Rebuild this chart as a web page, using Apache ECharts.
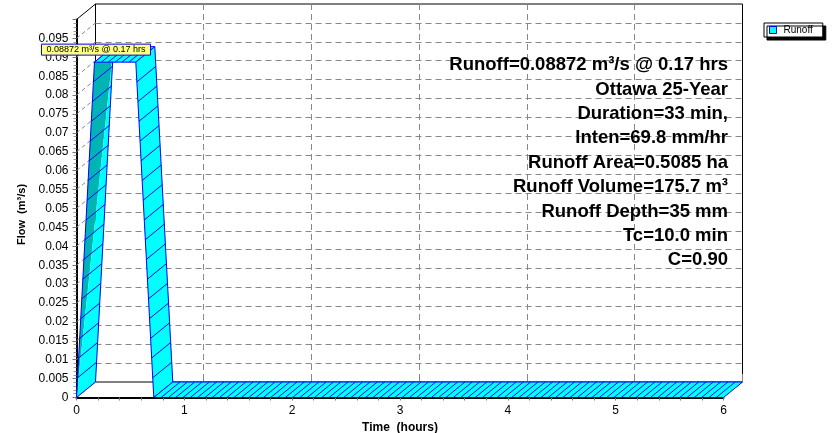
<!DOCTYPE html>
<html>
<head>
<meta charset="utf-8">
<script src="https://cdn.jsdelivr.net/npm/echarts@6/dist/echarts.min.js"></script>
<style>
html,body{margin:0;padding:0;background:#fff;}
#chart{width:837px;height:433px;}
</style>
</head>
<body>
<div id="chart"></div>
<script>
// ---- data ----
const seriesName = 'Runoff';
const timeHours = [0, 0.1667, 0.55, 0.7167, 6];
const flowCms = [0, 0.08872, 0.08872, 0, 0];
const flowTicks = [0, 0.005, 0.01, 0.015, 0.02, 0.025, 0.03, 0.035, 0.04, 0.045, 0.05,
  0.055, 0.06, 0.065, 0.07, 0.075, 0.08, 0.085, 0.09, 0.095, 0.1];
const timeTicks = [0, 1, 2, 3, 4, 5, 6];
const annotationLines = [
  'Runoff=0.08872 m³/s @ 0.17 hrs',
  'Ottawa 25-Year',
  'Duration=33 min,',
  'Inten=69.8 mm/hr',
  'Runoff Area=0.5085 ha',
  'Runoff Volume=175.7 m³',
  'Runoff Depth=35 mm',
  'Tc=10.0 min',
  'C=0.90'
];
const xAxisName = 'Time  (hours)';
const yAxisName = 'Flow  (m³/s)';

// ---- style constants ----
const DX = 19, DY = -15.5;
const FONT = 'Liberation Sans, Arial, Helvetica, sans-serif';
const CYAN = '#00ffff', TEAL = '#00b4b4', BLUE = '#0000ff';

const yMax = flowTicks[flowTicks.length - 1];
const xMax = timeTicks[timeTicks.length - 1];
let peakIdx = 0;
flowCms.forEach((q, i) => { if (q > flowCms[peakIdx]) peakIdx = i; });

function fmt(v) { return String(+(+v).toFixed(4)); }

function renderWall(params, api) {
  const v = api.value(1);
  const p = api.coord([0, v]);
  const top = v >= yMax;
  return {
    type: 'line',
    shape: { x1: p[0], y1: p[1], x2: p[0] + DX, y2: p[1] + DY },
    style: { stroke: top ? '#000' : '#888', lineWidth: 1, lineDash: top ? null : [4, 3] }
  };
}

function poly(pts, fill, stroke) {
  return { type: 'polygon', shape: { points: pts }, style: { fill: fill || null, stroke: stroke || null, lineWidth: 1 } };
}

function renderRibbon(params, api) {
  const i = params.dataIndex;
  const children = [];
  if (i < timeHours.length - 1) {
    const a = api.coord([timeHours[i], flowCms[i]]);
    const b = api.coord([timeHours[i + 1], flowCms[i + 1]]);
    const ab = [a[0] + DX, a[1] + DY];
    const bb = [b[0] + DX, b[1] + DY];
    if (flowCms[i + 1] > flowCms[i]) {
      children.push(poly([a, b, bb], TEAL));
      children.push(poly([a, bb, ab], CYAN));
    } else {
      children.push(poly([a, b, bb, ab], CYAN));
    }
    // hatch lines parallel to depth
    const ddx = b[0] - a[0], ddy = b[1] - a[1];
    const steep = Math.abs(ddy) > Math.abs(ddx);
    const n = Math.max(1, Math.round(steep ? Math.abs(ddy) / 19.3 : Math.abs(ddx) / 7.3));
    for (let k = 1; k < n; k++) {
      const f = k / n;
      const x = a[0] + ddx * f, y = a[1] + ddy * f;
      children.push({ type: 'line', shape: { x1: x, y1: y, x2: x + DX, y2: y + DY },
        style: { stroke: BLUE, lineWidth: 1 } });
    }
    children.push(poly([a, b, bb, ab], null, BLUE));
  }
  if (i === peakIdx) {
    const p = api.coord([timeHours[i], flowCms[i]]);
    const txt = String(flowCms[i]) + ' m³/s @ ' + timeHours[i].toFixed(2) + ' hrs';
    children.push({
      type: 'rect', z2: 50,
      shape: { x: p[0] - 53, y: p[1] - 18, width: 109, height: 11 },
      style: { fill: '#ffff80', stroke: BLUE, lineWidth: 1 }
    });
    children.push({
      type: 'text', z2: 51,
      x: p[0] + 1.5, y: p[1] - 12.5,
      style: { text: txt, fill: '#000', font: '9px ' + FONT, align: 'center', verticalAlign: 'middle' }
    });
  }
  return { type: 'group', children };
}

const chart = echarts.init(document.getElementById('chart'), null, { renderer: 'canvas' });
const option = {
  animation: false,
  backgroundColor: '#fff',
  textStyle: { fontFamily: FONT },
  grid: [
    { left: 76.5, top: 19.5, width: 647, height: 378, outerBoundsMode: 'none', containLabel: false },
    { left: 95.5, top: 4, width: 647, height: 378, outerBoundsMode: 'none', containLabel: false,
      show: true, borderColor: '#000', borderWidth: 1, backgroundColor: 'transparent' }
  ],
  xAxis: [
    {
      gridIndex: 0, type: 'value', min: timeTicks[0], max: xMax, interval: 1,
      name: xAxisName, nameLocation: 'middle', nameGap: 21,
      nameTextStyle: { fontWeight: 'bold', fontSize: 12, color: '#000', fontFamily: FONT },
      axisLine: { show: true, onZero: false, lineStyle: { color: '#000', width: 2 } },
      axisTick: { show: true, length: 3, lineStyle: { color: '#777' } },
      minorTick: { show: true, splitNumber: 5, length: 3, lineStyle: { color: '#777' } },
      axisLabel: { fontSize: 12, color: '#000', margin: 7, formatter: fmt },
      splitLine: { show: false }
    },
    {
      gridIndex: 1, type: 'value', min: timeTicks[0], max: xMax, interval: 1,
      axisLine: { show: false },
      axisTick: { show: true, inside: true, length: 8, lineStyle: { color: '#888' } },
      axisLabel: { show: false },
      splitLine: { show: true, showMinLine: false, showMaxLine: false, lineStyle: { color: '#888', type: [6, 4], width: 1 } }
    }
  ],
  yAxis: [
    {
      gridIndex: 0, type: 'value', min: flowTicks[0], max: yMax, interval: 0.005,
      name: yAxisName, nameLocation: 'middle', nameGap: 47,
      nameTextStyle: { fontWeight: 'bold', fontSize: 11, color: '#000', fontFamily: FONT, padding: [0, 12, 0, 0] },
      axisLine: { show: true, onZero: false, lineStyle: { color: '#000', width: 2 } },
      axisTick: { show: true, length: 4, lineStyle: { color: '#777' } },
      minorTick: { show: true, splitNumber: 5, length: 3, lineStyle: { color: '#999' } },
      axisLabel: { fontSize: 12, color: '#000', margin: 8, showMaxLabel: false, formatter: fmt },
      splitLine: { show: false }
    },
    {
      gridIndex: 1, type: 'value', min: flowTicks[0], max: yMax, interval: 0.005,
      axisLine: { show: false }, axisTick: { show: false }, axisLabel: { show: false },
      splitLine: { show: true, showMinLine: false, showMaxLine: false, lineStyle: { color: '#888', type: [6, 4], width: 1 } }
    }
  ],
  legend: {
    data: [{ name: seriesName, icon: 'rect' }],
    left: 764, top: 23,
    itemWidth: 7, itemHeight: 7,
    padding: [2, 10, 2, 5],
    backgroundColor: '#fff', borderColor: '#000', borderWidth: 1, borderRadius: 0,
    shadowColor: '#000', shadowOffsetX: 3, shadowOffsetY: 3, shadowBlur: 0,
    itemStyle: { color: CYAN, borderColor: BLUE, borderWidth: 1 },
    textStyle: { fontSize: 10, color: '#000', fontFamily: FONT, padding: [0, 0, 0, 2] }
  },
  graphic: [
    {
      type: 'text', x: 728, y: 53, z: 100,
      style: {
        text: annotationLines.join('\n'), fill: '#000', align: 'right', verticalAlign: 'top',
        font: 'bold 18.5px ' + FONT, lineHeight: 24.4
      }
    }
  ],
  series: [
    {
      name: 'wall', type: 'custom', xAxisIndex: 0, yAxisIndex: 0, clip: false, z: 1,
      silent: true,
      data: flowTicks.map(v => [0, v]),
      encode: { x: 0, y: 1 },
      renderItem: renderWall
    },
    {
      name: seriesName, type: 'custom', xAxisIndex: 0, yAxisIndex: 0, clip: false, z: 5,
      itemStyle: { color: CYAN, borderColor: BLUE, borderWidth: 1 },
      data: timeHours.map((t, i) => [t, flowCms[i]]),
      encode: { x: 0, y: 1 },
      renderItem: renderRibbon
    }
  ]
};
chart.setOption(option);
</script>
</body>
</html>
